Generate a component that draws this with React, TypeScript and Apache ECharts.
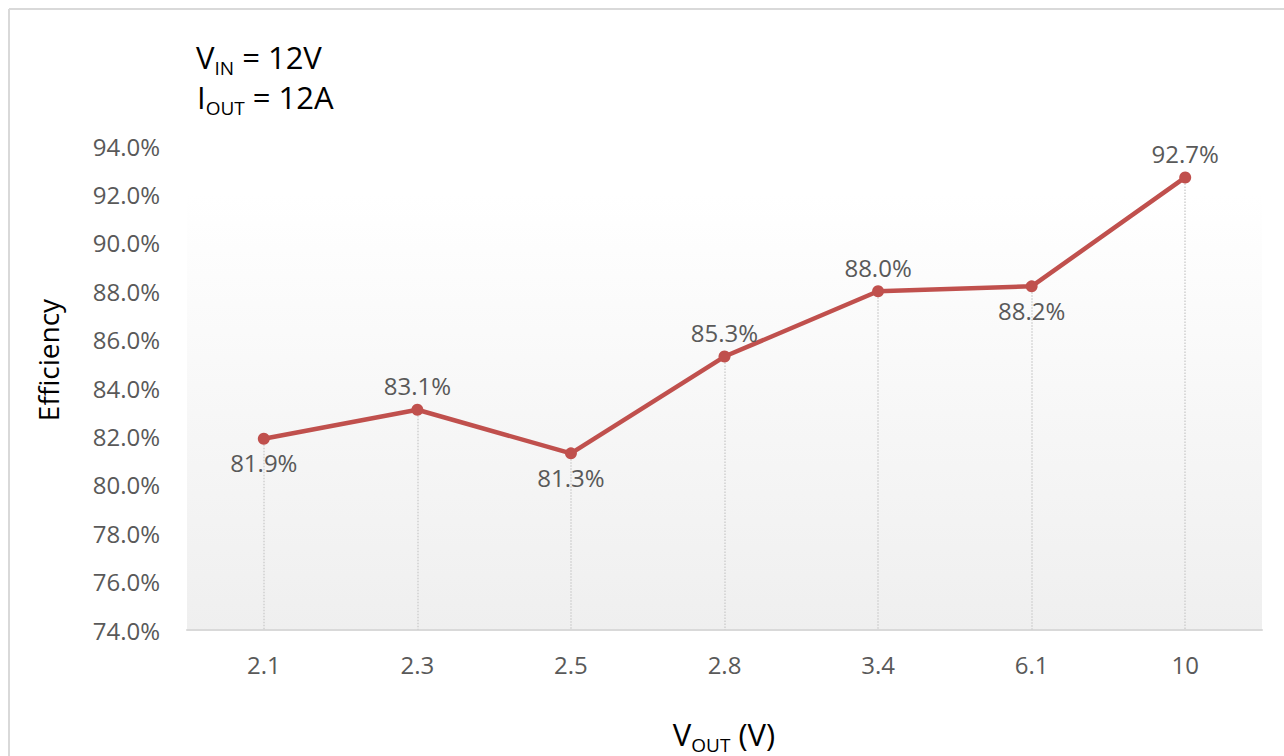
import React, { useEffect, useRef } from "react";
import * as echarts from "echarts";

const categories = ["2.1", "2.3", "2.5", "2.8", "3.4", "6.1", "10"];
const efficiency = [81.9, 83.1, 81.3, 85.3, 88.0, 88.2, 92.7];
const yMin = 74;
const yMax = 94;
const yStep = 2;

const FONT = "'Open Sans', sans-serif";

const richSub = {
  m: { fontSize: 31, fontFamily: FONT, fill: "#000000", color: "#000000", lineHeight: 44, verticalAlign: "middle" },
  s: { fontSize: 19, fontFamily: FONT, fill: "#000000", color: "#000000", lineHeight: 44, verticalAlign: "bottom", padding: [0, 0, 2, 0] },
};

export default function App() {
  const ref = useRef<HTMLDivElement>(null);
  useEffect(() => {
    if (!ref.current) return;
    const chart = echarts.init(ref.current, undefined, { renderer: "svg" });
    const below = new Set([0, 2, 5]);
    const option: any = {
      animation: false,
      backgroundColor: "#ffffff",
      textStyle: { fontFamily: FONT },
      grid: {
        left: 187,
        right: 22,
        top: 146,
        bottom: 126,
        show: true,
        borderWidth: 0,
        backgroundColor: new echarts.graphic.LinearGradient(0, 0, 0, 1, [
          { offset: 0, color: "#ffffff" },
          { offset: 0.1, color: "#ffffff" },
          { offset: 1, color: "#efefef" },
        ]),
      },
      xAxis: {
        type: "category",
        data: categories,
        boundaryGap: true,
        axisLine: { show: true, lineStyle: { color: "#d9d9d9", width: 2 } },
        axisTick: { show: false },
        axisLabel: { color: "#595959", fontSize: 24, fontFamily: FONT, margin: 22 },
        splitLine: { show: false },
      },
      yAxis: {
        type: "value",
        min: yMin,
        max: yMax,
        interval: yStep,
        axisLine: { show: false },
        axisTick: { show: false },
        splitLine: { show: false },
        axisLabel: {
          color: "#595959",
          fontSize: 24,
          fontFamily: FONT,
          margin: 27,
          formatter: (v: number) => v.toFixed(1) + "%",
        },
      },
      series: [
        {
          type: "line",
          data: efficiency.map((v, i) => ({
            value: v,
            label: { position: below.has(i) ? "bottom" : "top" },
          })),
          symbol: "circle",
          symbolSize: 12,
          lineStyle: { color: "#c0504d", width: 4.5 },
          itemStyle: { color: "#c0504d" },
          z: 5,
          label: {
            show: true,
            color: "#595959",
            fontSize: 24,
            fontFamily: FONT,
            distance: 6,
            formatter: (p: any) => Number(p.value).toFixed(1) + "%",
          },
          markLine: {
            silent: true,
            symbol: ["none", "none"],
            label: { show: false },
            lineStyle: { color: "#cfcfcf", type: "dotted", width: 1.5 },
            data: categories.map((c, i) => [
              { coord: [c, efficiency[i]] },
              { coord: [c, yMin] },
            ]),
            z: 1,
          },
        },
      ],
      graphic: [
        {
          type: "line",
          shape: { x1: 9, y1: 9, x2: 1284, y2: 9 },
          style: { stroke: "#d9d9d9", lineWidth: 2 },
        },
        {
          type: "line",
          shape: { x1: 9, y1: 9, x2: 9, y2: 756 },
          style: { stroke: "#d9d9d9", lineWidth: 2 },
        },
        {
          type: "text",
          x: 196,
          y: 57,
          style: {
            text: "{m|V}{s|IN}{m| = 12V}",
            verticalAlign: "middle",
            rich: richSub,
          },
        },
        {
          type: "text",
          x: 197,
          y: 97,
          style: {
            text: "{m|I}{s|OUT}{m| = 12A}",
            verticalAlign: "middle",
            rich: richSub,
          },
        },
        {
          type: "text",
          x: 48,
          y: 360,
          rotation: Math.PI / 2,
          style: {
            text: "Efficiency",
            fontSize: 28,
            fontFamily: FONT,
            fill: "#000000",
            align: "center",
            verticalAlign: "middle",
          },
        },
        {
          type: "text",
          x: 724,
          y: 734,
          style: {
            text: "{m|V}{s|OUT}{m| (V)}",
            align: "center",
            verticalAlign: "middle",
            rich: richSub,
          },
        },
      ],
    };
    chart.setOption(option);
    return () => chart.dispose();
  }, []);
  return (
    <div
      ref={ref}
      style={{ position: "fixed", left: 0, top: 0, width: 1284, height: 756 }}
    />
  );
}
